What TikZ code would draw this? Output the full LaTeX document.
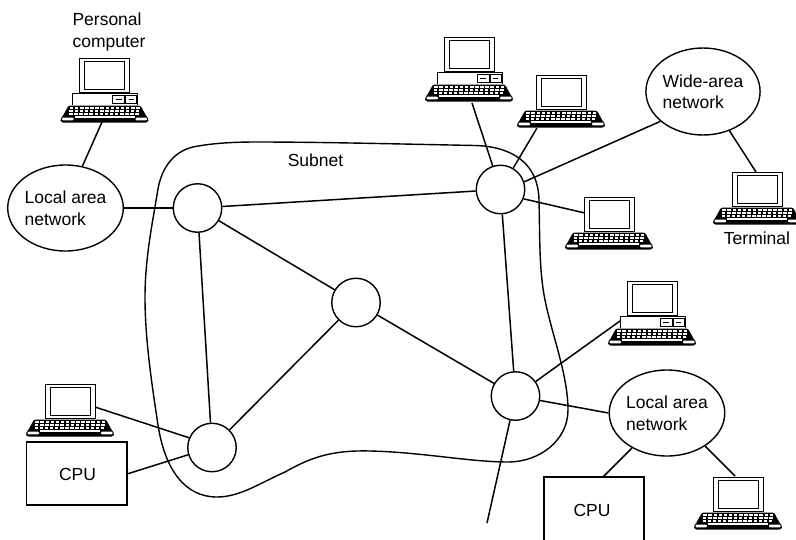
\documentclass[tikz,border=0pt]{standalone}
\usepackage{fontspec}
\setmainfont{Liberation Sans}
\usetikzlibrary{shapes.geometric}
\tikzset{
  x=1pt,y=-1pt,
  lbl/.style={inner sep=0pt,align=left,font=\fontsize{17.5}{21.5}\selectfont},
  netcirc/.style={circle,draw,line width=1.4pt,minimum size=48.5pt,inner sep=0pt},
  netell/.style={ellipse,draw,line width=1.4pt,inner sep=0pt,minimum width=#1},
  conn/.style={line width=1.5pt},
  kbdicon/.pic={
    \fill[rounded corners=1.5pt] (-36,35.5)--(36,35.5)--(42,46.5)--(44.5,49.5)--(43,52.5)--(-43,52.5)--(-44.5,49.5)--(-42,46.5)--cycle;
    \foreach \r/\o in {37.2/0,40/1,43/2}{
      \foreach \k in {-7,...,6}{
        \fill[white] ({\k*5.1+1-\o*0.4},\r) rectangle ++(3.5,1.8);
      }
    }
    \fill[white,rounded corners=1pt] (-42.5,47.5) rectangle (-31,50.3);
    \fill[white,rounded corners=1pt] (31,47.5) rectangle (42.5,50.3);
    \fill[white] (-30,46.4) rectangle (30,47.6);
  },
  monicon/.pic={
    \draw[line width=.9pt] (-25,0) rectangle (25,34);
    \draw[line width=.9pt] (-20,3) rectangle (20,31);
  },
  termicon/.pic={
    \pic at (0,0) {monicon};
    \pic at (0,0) {kbdicon};
  },
  pcicon/.pic={
    \pic at (0,0) {monicon};
    \draw[line width=.7pt] (-32,46.5)--(-32,35)--(33,35)--(33,46.5);
    \draw[line width=.8pt] (8,37) rectangle (20,45);
    \draw[line width=.8pt] (21,37) rectangle (32,45);
    \draw[line width=1pt] (11,41)--(17,41) (24,41)--(29,41);
    \pic at (0,12) {kbdicon};
  },
}
\begin{document}
\begin{tikzpicture}
\useasboundingbox (0,0) rectangle (796,539);
% subnet boundary
\draw[line width=1.4pt] (193,147) .. controls (215,142.5) and (240,142) .. (257,142)
  .. controls (320,142) and (400,144) .. (475,145.5)
  .. controls (500,146) and (538,155) .. (539,200)
  .. controls (540,240) and (539,270) .. (545,300)
  .. controls (552,335) and (568,375) .. (568,410)
  .. controls (568,440) and (540,462) .. (508,462)
  .. controls (470,462) and (420,452) .. (370,451)
  .. controls (330,450) and (310,458) .. (285,472)
  .. controls (260,483) and (240,497) .. (217,497)
  .. controls (185,497) and (165,470) .. (158,425)
  .. controls (152,385) and (145,340) .. (145,297)
  .. controls (145,260) and (152,225) .. (157,195)
  .. controls (160,170) and (172,152) .. (193,147) -- cycle;
\node[lbl] (subnet) at (315.5,160) {Subnet};
% switches
\node[netcirc] (A) at (197.5,208) {};
\node[netcirc] (B) at (500.5,189.5) {};
\node[netcirc] (C) at (356,302.5) {};
\node[netcirc] (D) at (515.5,396) {};
\node[netcirc] (E) at (212,447.5) {};
% networks
\node[netell=114pt,minimum height=86pt,lbl,draw,line width=1.4pt] (lanl) at (65.5,208) {Local area\\network};
\node[netell=113pt,minimum height=87pt,lbl,draw,line width=1.4pt] (wan) at (703,91.5) {Wide-area\\network};
\node[netell=114pt,minimum height=86pt,lbl,draw,line width=1.4pt] (lanr) at (667,413) {Local area\\network};
% computers
\pic (pc1) at (104.5,58) {pcicon};
\pic (pc2) at (469,37) {pcicon};
\pic (pc3) at (652,281) {pcicon};
\pic (t1) at (561,75) {termicon};
\pic (t2) at (609,197) {termicon};
\pic (t3) at (757,172) {termicon};
\pic (t4) at (738,477) {termicon};
\pic (t5) at (70,384) {termicon};
% CPUs
\draw[line width=1.5pt] (26.5,442) rectangle (127,505);
\node[lbl] (cpul) at (77.5,474) {CPU};
\draw[line width=1.5pt] (544,540)--(544,477)--(644,477)--(644,540);
\node[lbl] (cpur) at (592,510) {CPU};
% labels
\node[lbl] (pclabel) at (109,32) {Personal\\computer};
\node[lbl] (tlabel) at (757,238) {Terminal};
% connector ends
\coordinate (pc1c) at (102,122);
\coordinate (pc2c) at (472,103);
\coordinate (pc3c) at (620,321);
\coordinate (t1c) at (537,128);
\coordinate (t2c) at (585,213);
\coordinate (t3c) at (756,172);
\coordinate (t4c) at (735,476);
\coordinate (t5c) at (95,407);
\coordinate (cpulc) at (127,474);
\coordinate (cpurc) at (603,477);
\coordinate (down) at (487,523);
% connectors
\begin{scope}[conn]
\draw (pc1c) -- (lanl.68);
\draw (lanl.0) -- (A.180);
\draw (A) -- (B);
\draw (A) -- (C);
\draw (A) -- (E);
\draw (C) -- (E);
\draw (C) -- (D);
\draw (B) -- (D);
\draw (D) -- (down);
\draw (D) -- (pc3c);
\draw (D) -- (lanr.180);
\draw (lanr.225) -- (cpurc);
\draw (lanr.-41) -- (t4c);
\draw (E.157) -- (t5c);
\draw (E.197) -- (cpulc);
\draw (B) -- (pc2c);
\draw (B) -- (t1c);
\draw (B.18) -- (wan.215);
\draw (B.-22) -- (t2c);
\draw (wan.-56) -- (t3c);
\end{scope}
\end{tikzpicture}
\end{document}
